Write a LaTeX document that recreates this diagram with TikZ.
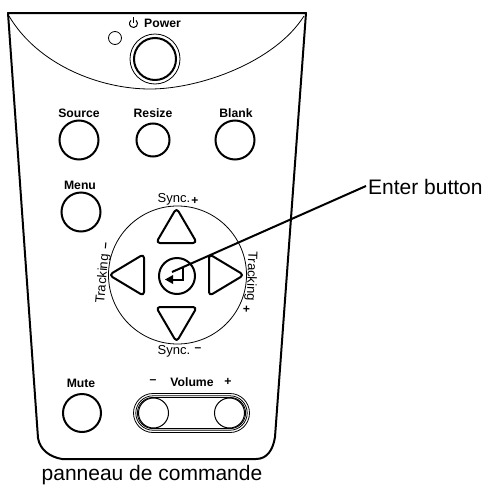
\documentclass[tikz,border=0pt]{standalone}
\usepackage{fontspec}
\setmainfont{Liberation Sans}
\tikzset{
  x=1pt,y=-1pt,
  btn/.style={circle,draw=black,line width=2pt,inner sep=0pt,fill=white},
  voldisc/.style={circle,draw=black,line width=1pt,fill=white,minimum size=30pt,inner sep=0pt},
  btnlabel/.style={inner sep=0pt,font=\fontsize{12.2}{14}\selectfont\bfseries},
  thinline/.style={draw=black,line width=0.8pt},
  tri/.style={draw=black,line width=2pt,rounded corners=4pt,line join=round},
  smalllabel/.style={inner sep=0pt,font=\fontsize{13}{15}\selectfont},
  signlabel/.style={inner sep=0pt,font=\fontsize{12}{12}\selectfont\bfseries},
  biglabel/.style={inner sep=0pt,font=\fontsize{21}{24}\selectfont},
}
\newcommand{\stadium}[1]{%
  \draw[thinline] (153,413-#1) -- (230,413-#1)
    arc[start angle=-90,end angle=90,radius=#1] -- (153,413+#1)
    arc[start angle=90,end angle=270,radius=#1] -- cycle;}
\begin{document}
\begin{tikzpicture}
\useasboundingbox (0,0) rectangle (488,485);
% body
\draw[line width=2pt,line join=round] (8,13) -- (306,13) -- (275,437)
  .. controls (273,450) and (267,459) .. (256,459) -- (62,459)
  .. controls (50,457) and (40,450) .. (38,438) -- cycle;
\draw[thinline] (9,16) .. controls (38,65) and (100,89) .. (150,89)
  .. controls (200,89) and (275,62) .. (304,16);
% power
\node[thinline,circle,minimum size=13pt,inner sep=0pt] (led) at (115,38) {};
\node[circle,draw=black,line width=0.8pt,minimum size=50pt,inner sep=0pt] (powerring) at (155,59) {};
\node[btn,minimum size=42pt] (power) at (155,59) {};
\node[btnlabel] (powerlabel) at (162.5,23.5) {Power};
\draw[line width=1pt] (133.5,17) -- (133.5,23);
\draw[line width=1pt] (136.07,20.44) arc[start angle=-50,end angle=230,radius=4];
% row
\node[btnlabel] (sourcelabel) at (79,113) {Source};
\node[btn,minimum size=39pt] (source) at (79,140) {};
\node[btnlabel] (resizelabel) at (153,113) {Resize};
\node[btn,minimum size=33pt] (resize) at (153,140) {};
\node[btnlabel] (blanklabel) at (236,113) {Blank};
\node[btn,minimum size=39pt] (blank) at (235,140) {};
\node[btnlabel] (menulabel) at (80,185) {Menu};
\node[btn,minimum size=39pt] (menu) at (81,212) {};
% dial
\node[thinline,circle,minimum size=138pt,inner sep=0pt] (dial) at (177.5,275) {};
\node[btn,minimum size=36pt] (enter) at (177,276) {};
\draw[tri] (176.5,208) -- (197,243) -- (156,243) -- cycle;
\draw[tri] (176.5,342) -- (197,307) -- (156,307) -- cycle;
\draw[tri] (109,275) -- (144,254) -- (144,296) -- cycle;
\draw[tri] (244,275) -- (209,254) -- (209,296) -- cycle;
% enter glyph
\draw[line width=2pt] (183,268) -- (183,279.5) -- (171,279.5);
\fill (165,279.5) -- (173,275) -- (173,284) -- cycle;
% labels
\node[smalllabel] (syncplus) at (174,199) {Sync.};
\node[signlabel] (syncplussign) at (195,200.5) {+};
\node[smalllabel] (syncminus) at (174,351) {Sync.};
\node[signlabel] (syncminussign) at (198,349.5) {--};
\node[smalllabel,rotate=85] (trackminus) at (103,279) {Tracking};
\node[signlabel,rotate=85] (trackminussign) at (107,246) {--};
\node[smalllabel,rotate=-92] (trackplus) at (251,276) {Tracking};
\node[signlabel,rotate=-92] (trackplussign) at (246,309) {+};
% mute / volume
\node[btnlabel] (mutelabel) at (81,383) {Mute};
\node[btn,minimum size=38pt] (mute) at (82,413) {};
\node[btnlabel] (volumelabel) at (192,382) {Volume};
\node[btnlabel] (volminus) at (153,382) {--};
\node[btnlabel] (volplus) at (228,382) {+};
\stadium{19.5}
\stadium{17.2}
\stadium{15.6}
\node[voldisc] (volm) at (153.5,413) {};
\node[voldisc] (volp) at (229.5,413) {};
% caption
\node[biglabel] (caption) at (152,475) {panneau de commande};
% callout
\node[biglabel,anchor=west] (enterlabel) at (368,187) {Enter button};
\coordinate (tip) at (172,272);
\draw[line width=2pt] (366,186) -- (tip);
\end{tikzpicture}
\end{document}
